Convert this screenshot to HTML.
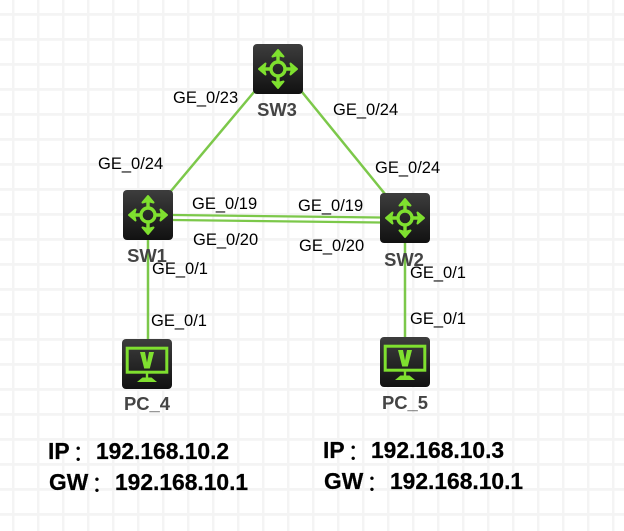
<!DOCTYPE html>
<html>
<head>
<meta charset="utf-8">
<style>
html,body{margin:0;padding:0;background:#fff;width:624px;height:531px;overflow:hidden}
svg{display:block}
.l{font-family:"Liberation Sans",sans-serif;font-size:16.5px;fill:#000}
.d{font-family:"Liberation Sans",sans-serif;font-size:18.4px;font-weight:bold;fill:#444;text-anchor:middle}
.t{font-family:"Liberation Sans","Noto Sans CJK SC",sans-serif;font-size:22.8px;font-weight:bold;fill:#000;stroke:#000;stroke-width:.25px}
.c{font-weight:normal;stroke:none}
</style>
</head>
<body>
<svg width="624" height="531" viewBox="0 0 624 531" xmlns="http://www.w3.org/2000/svg">
<defs>
<pattern id="g" x="0" y="0" width="25" height="25" patternUnits="userSpaceOnUse">
<rect x="12" y="0" width="2.5" height="25" fill="#f4f4f4"/>
<rect x="0" y="13" width="25" height="2.8" fill="#f4f4f4"/>
</pattern>
<linearGradient id="bg" x1="0" y1="0" x2="0" y2="1">
<stop offset="0" stop-color="#3d3d3d"/>
<stop offset="1" stop-color="#111"/>
</linearGradient>
<g id="sw">
<rect width="50" height="50" rx="4" fill="url(#bg)"/>
<g stroke="#7fe02f" stroke-width="3.4" fill="none">
<circle cx="25" cy="25" r="7"/>
<path d="M25 18V8M25 32V42M18 25H8M32 25H42"/>
</g>
<g fill="#7fe02f" stroke="#7fe02f" stroke-width="2" stroke-linejoin="round">
<path d="M25 6L30.500 12.500L25 11L19.500 12.500Z"/>
<path d="M25 44L30.500 37.500L25 39L19.500 37.500Z"/>
<path d="M6 25L12.500 19.500L11 25L12.500 30.500Z"/>
<path d="M44 25L37.500 19.500L39 25L37.500 30.500Z"/>
</g>
</g>
<g id="pc">
<rect width="50" height="50" rx="4" fill="url(#bg)"/>
<rect x="5.200" y="9.200" width="39.600" height="24" fill="none" stroke="#7fe02f" stroke-width="3"/>
<path d="M18 13H23L25 23.500L27 13H32L27.800 29.500H22.200Z" fill="#7fe02f"/>
<path d="M23.800 34H26.200V39.500H23.800Z" fill="#7fe02f"/>
<path d="M20.500 38.500H29.500L35 43H15Z" fill="#7fe02f"/>
</g>
</defs>
<rect width="624" height="531" fill="#fff"/>
<rect width="624" height="531" fill="url(#g)"/>

<g stroke="#7cc84a" stroke-width="2.500" fill="none">
<line x1="254" y1="92" x2="171" y2="191"/>
<line x1="302" y1="92" x2="385" y2="194"/>
<line x1="148" y1="240" x2="148" y2="339"/>
<line x1="405" y1="243" x2="405" y2="337"/>
</g>
<g stroke="#7cc84a" stroke-width="2.200" fill="none">
<line x1="173" y1="215" x2="380" y2="217.500"/>
<line x1="173" y1="220" x2="380" y2="222.500"/>
</g>

<use href="#sw" x="253" y="44"/>
<use href="#sw" x="123" y="190"/>
<use href="#sw" x="380" y="193"/>
<use href="#pc" x="122" y="339"/>
<use href="#pc" x="380" y="337"/>

<text class="d" x="277" y="116">SW3</text>
<text class="d" x="147" y="262">SW1</text>
<text class="d" x="404" y="266">SW2</text>
<text class="d" x="147" y="410">PC_4</text>
<text class="d" x="405" y="409">PC_5</text>

<text class="l" x="173" y="103">GE_0/23</text>
<text class="l" x="333" y="115">GE_0/24</text>
<text class="l" x="98" y="169">GE_0/24</text>
<text class="l" x="375" y="173">GE_0/24</text>
<text class="l" x="192" y="209">GE_0/19</text>
<text class="l" x="298" y="211">GE_0/19</text>
<text class="l" x="193" y="245">GE_0/20</text>
<text class="l" x="299" y="251">GE_0/20</text>
<text class="l" x="152" y="274">GE_0/1</text>
<text class="l" x="151" y="326">GE_0/1</text>
<text class="l" x="410" y="278">GE_0/1</text>
<text class="l" x="410" y="324">GE_0/1</text>

<text class="t" y="459"><tspan x="48">IP</tspan><tspan class="c" dx="3" dy="2">：</tspan><tspan x="96" y="459">192.168.10.2</tspan></text>
<text class="t" y="490"><tspan x="49">GW</tspan><tspan class="c" dx="3" dy="2">：</tspan><tspan x="115" y="490">192.168.10.1</tspan></text>
<text class="t" y="458"><tspan x="323">IP</tspan><tspan class="c" dx="3" dy="2">：</tspan><tspan x="371" y="458">192.168.10.3</tspan></text>
<text class="t" y="489"><tspan x="324">GW</tspan><tspan class="c" dx="3" dy="2">：</tspan><tspan x="390" y="489">192.168.10.1</tspan></text>
</svg>
</body>
</html>
